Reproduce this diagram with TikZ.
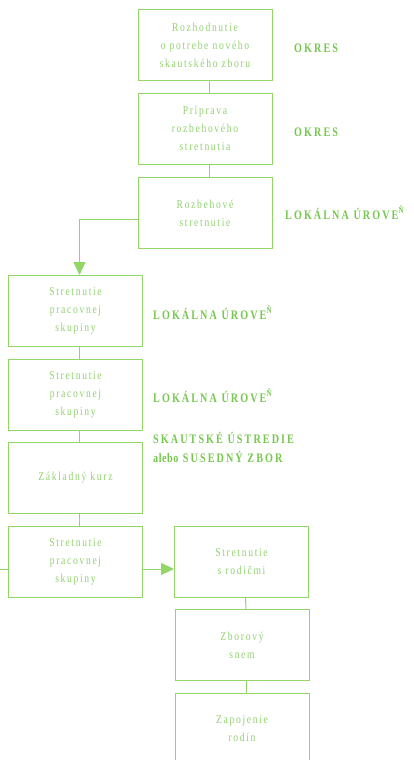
\documentclass[tikz,border=0pt]{standalone}
\usepackage{fontspec}
\setmainfont{Liberation Serif}
\newfontfamily\boxfont{Liberation Serif}[LetterSpace=14,FakeStretch=0.8]
\newfontfamily\labfont{Liberation Serif}[LetterSpace=16,FakeStretch=0.78]
\usetikzlibrary{arrows.meta}
\definecolor{linecol}{RGB}{146,214,104}
\definecolor{boxtext}{RGB}{146,210,112}
\definecolor{labcol}{RGB}{118,200,78}
\begin{document}
\begin{tikzpicture}[x=1pt,y=-1pt,
  box/.style={draw=linecol, line width=1pt, minimum width=134pt, minimum height=71pt,
    inner sep=0pt, align=center, text=boxtext, font=\boxfont\fontsize{12}{18}\selectfont},
  conn/.style={draw=linecol, line width=1pt},
  arr/.style={conn, -{Triangle[length=13pt,width=12pt]}},
  lab/.style={anchor=base west, inner sep=0pt, text=labcol, align=left,
    font=\labfont\bfseries\fontsize{13}{19}\selectfont}]
\useasboundingbox (0,0) rectangle (414,760);
\clip (0,0) rectangle (414,760);
\fill[white] (0,0) rectangle (414,760);
% boxes
\node[box] (b1) at (205,45) {Rozhodnutie\\o potrebe nového\\skautského zboru};
\node[box] (b2) at (205,128.5) {Príprava\\rozbehového\\stretnutia};
\node[box] (b3) at (205,213) {Rozbehové\\stretnutie};
\node[box] (b4) at (75.5,311) {Stretnutie\\pracovnej\\skupiny};
\node[box] (b5) at (75.5,394.5) {Stretnutie\\pracovnej\\skupiny};
\node[box] (b6) at (75.5,478) {Základný kurz};
\node[box] (b7) at (75.5,562) {Stretnutie\\pracovnej\\skupiny};
\node[box] (b8) at (241.5,561.5) {Stretnutie\\s rodičmi};
\node[box] (b9) at (242,645) {Zborový\\snem};
\node[box] (b10) at (242,729) {Zapojenie\\rodín};
% labels
\node[lab] (l1) at (294,52.5) {OKRES};
\node[lab] (l2) at (294,136.5) {OKRES};
\node[lab] (l3) at (285,219.5) {LOKÁLNA ÚROVE\raisebox{6.5pt}{\fontsize{9}{9}\selectfont Ň}};
\node[lab] (l4) at (153,319.5) {LOKÁLNA ÚROVE\raisebox{6.5pt}{\fontsize{9}{9}\selectfont Ň}};
\node[lab] (l5) at (153,402.5) {LOKÁLNA ÚROVE\raisebox{6.5pt}{\fontsize{9}{9}\selectfont Ň}};
\node[lab] (l6) at (153,462.5) {SKAUTSKÉ ÚSTREDIE\\{\addfontfeatures{LetterSpace=4}alebo} SUSEDNÝ ZBOR};
% connectors
\draw[conn] ([xshift=4pt]b1.south) -- ([xshift=4pt]b2.north);
\draw[conn] ([xshift=4pt]b2.south) -- ([xshift=4pt]b3.north);
\draw[arr] ([yshift=-6pt]b3.west) -| ([xshift=4pt]b4.north);
\draw[conn] ([xshift=4pt]b4.south) -- ([xshift=4pt]b5.north);
\draw[conn] ([xshift=4pt]b5.south) -- ([xshift=4pt]b6.north);
\draw[conn] ([xshift=4pt]b6.south) -- ([xshift=4pt]b7.north);
\coordinate (lft) at (0,569);
\draw[conn] (lft) -- (lft -| b7.west);
\draw[arr] ([yshift=-7pt]b7.east) -- ([yshift=-7.5pt]b8.west);
\draw[conn] ([xshift=4pt]b8.south) -- ([xshift=4pt]b9.north);
\draw[conn] ([xshift=4pt]b9.south) -- ([xshift=4pt]b10.north);
\end{tikzpicture}
\end{document}
